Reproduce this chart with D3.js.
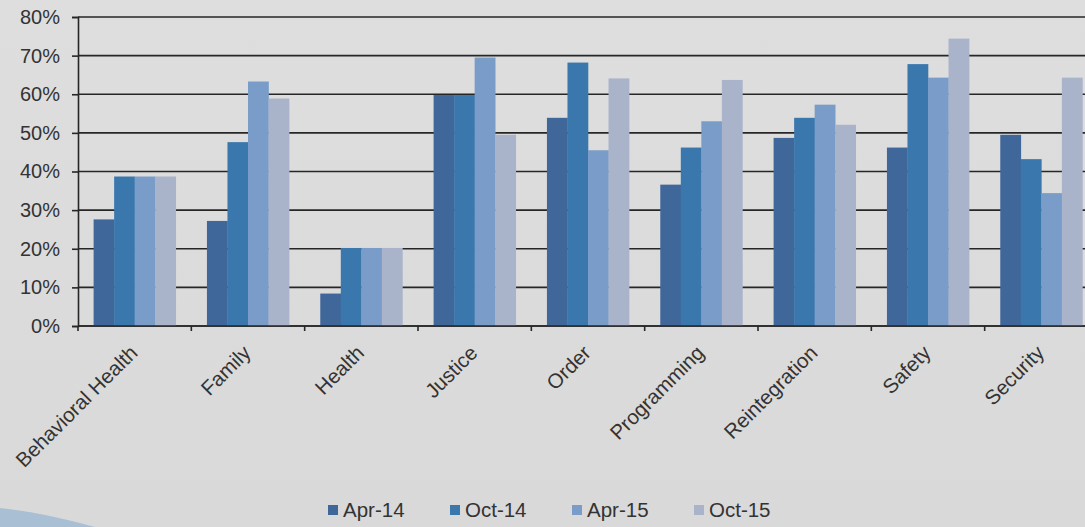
<html><head>
<meta charset="UTF-8">
<title>Survey results by category</title>
<style>
  body {
    margin: 0;
    padding: 0;
    background: #dadada;
    font-family: Arial, "Liberation Sans", sans-serif;
    overflow: hidden;
  }
  #chart { width: 1085px; height: 527px; }
</style>
</head>
<body>
  <div id="chart"></div>

  <script src="https://d3js.org/d3.v7.min.js"></script>
  <script>
    // data
    const categories = ["Behavioral Health", "Family", "Health", "Justice", "Order",
                        "Programming", "Reintegration", "Safety", "Security"];
    const seriesNames = ["Apr-14", "Oct-14", "Apr-15", "Oct-15"];
    const apr14 = [27.6, 27.2, 8.4, 59.8, 53.9, 36.6, 48.7, 46.2, 49.5];
    const oct14 = [38.7, 47.6, 20.2, 59.8, 68.2, 46.2, 53.9, 67.8, 43.2];
    const apr15 = [38.7, 63.3, 20.2, 69.5, 45.5, 53.0, 57.3, 64.3, 34.4];
    const oct15 = [38.7, 58.9, 20.2, 49.5, 64.1, 63.7, 52.1, 74.4, 64.3];
    const yTicks = [0, 10, 20, 30, 40, 50, 60, 70, 80];

    const seriesValues = [apr14, oct14, apr15, oct15];
    const colors = ["#40679a", "#3a77ad", "#7a9cc9", "#a9b3c9"];

    const width = 1085;
    const height = 527;
    // plot area runs past the right edge, like the cropped scan
    const plotLeft = 78, plotRight = 1098, plotTop = 17, plotBottom = 326;

    const svg = d3.select("#chart")
      .append("svg")
      .attr("width", width)
      .attr("height", height);

    // faint paper shading
    const defs = svg.append("defs");
    const bg = defs.append("linearGradient")
      .attr("id", "paper")
      .attr("x1", "0").attr("y1", "0").attr("x2", "0").attr("y2", "1");
    bg.append("stop").attr("offset", "0%").attr("stop-color", "#dedede");
    bg.append("stop").attr("offset", "100%").attr("stop-color", "#d9d9d9");
    svg.append("rect").attr("width", width).attr("height", height).attr("fill", "url(#paper)");

    // blue page corner at the bottom left
    svg.append("path")
      .attr("d", "M0,508 L0,527 L95,527 Q40,512 0,508 Z")
      .attr("fill", "#a9bfd3");

    const x = d3.scaleBand()
      .domain(categories)
      .range([plotLeft, plotRight])
      .paddingInner(0)
      .paddingOuter(0);

    const xs = d3.scaleBand()
      .domain(seriesNames)
      .range([0, x.bandwidth()])
      .paddingInner(0)
      .paddingOuter(0.76);

    const y = d3.scaleLinear()
      .domain([0, 80])
      .range([plotBottom, plotTop]);

    // gridlines
    svg.append("g")
      .selectAll("line")
      .data(yTicks)
      .join("line")
      .attr("x1", plotLeft)
      .attr("x2", plotRight)
      .attr("y1", d => y(d))
      .attr("y2", d => y(d))
      .attr("stroke", "#262626")
      .attr("stroke-width", 1.6);

    // bars
    svg.append("g")
      .selectAll("g")
      .data(seriesNames)
      .join("g")
      .attr("fill", (d, i) => colors[i])
      .selectAll("rect")
      .data((s, i) => seriesValues[i].map((v, j) => ({ cat: categories[j], s: s, v: v })))
      .join("rect")
      .attr("x", d => x(d.cat) + xs(d.s))
      .attr("y", d => y(d.v))
      .attr("width", xs.bandwidth() + 0.3)
      .attr("height", d => plotBottom - y(d.v));

    // y axis
    const yAxis = svg.append("g")
      .attr("transform", `translate(${plotLeft},0)`)
      .call(d3.axisLeft(y).tickValues(yTicks).tickFormat(d => d + "%").tickSize(6).tickPadding(12));
    yAxis.select(".domain").attr("stroke", "#262626").attr("stroke-width", 1.6);
    yAxis.selectAll(".tick line").attr("stroke", "#262626").attr("stroke-width", 1.6);
    yAxis.selectAll("text")
      .attr("fill", "#333")
      .style("font-size", "20px")
      .style("font-family", "Arial, 'Liberation Sans', sans-serif");

    // x axis: ticks sit between categories
    const xAxis = svg.append("g").attr("transform", `translate(0,${plotBottom})`);
    xAxis.append("line")
      .attr("x1", plotLeft).attr("x2", plotRight)
      .attr("stroke", "#262626").attr("stroke-width", 1.6);
    xAxis.selectAll(".xtick")
      .data(categories)
      .join("line")
      .attr("class", "xtick")
      .attr("x1", d => x(d)).attr("x2", d => x(d))
      .attr("y1", 0).attr("y2", 5)
      .attr("stroke", "#262626").attr("stroke-width", 1.6);

    xAxis.selectAll(".xlabel")
      .data(categories)
      .join("text")
      .attr("class", "xlabel")
      .attr("transform", d => `translate(${x(d) + x.bandwidth() / 2 - 1},${23}) rotate(-45)`)
      .attr("text-anchor", "end")
      .attr("dy", "0.35em")
      .attr("fill", "#333")
      .style("font-size", "20.5px")
      .text(d => d);

    // legend
    const legend = svg.append("g").attr("transform", "translate(328,505)");
    const item = legend.selectAll("g")
      .data(seriesNames)
      .join("g")
      .attr("transform", (d, i) => `translate(${i * 122},0)`);
    item.append("rect")
      .attr("width", 10).attr("height", 10)
      .attr("fill", (d, i) => colors[i]);
    item.append("text")
      .attr("x", 15)
      .attr("y", 5)
      .attr("dy", "0.36em")
      .attr("fill", "#333")
      .style("font-size", "20.5px")
      .text(d => d);
  </script>
</body></html>
